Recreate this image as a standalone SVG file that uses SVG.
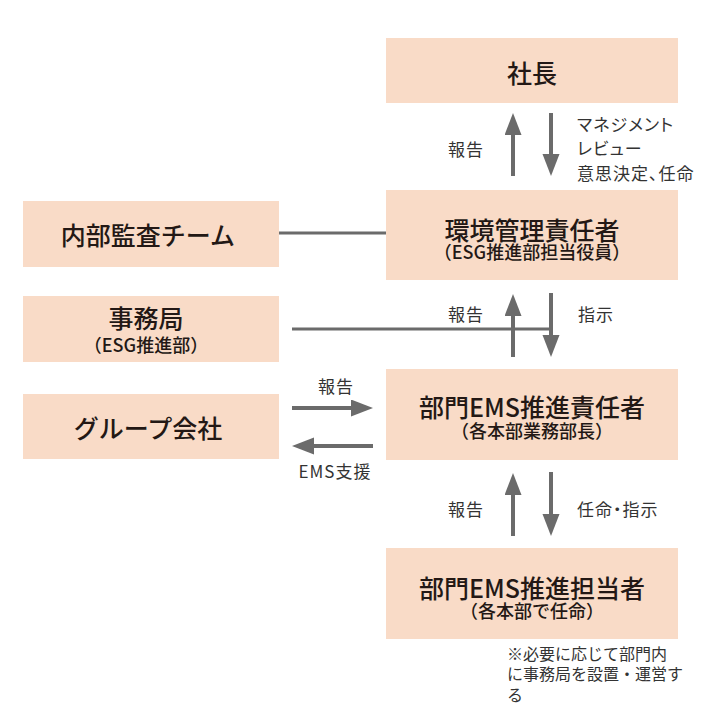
<svg xmlns="http://www.w3.org/2000/svg" width="720" height="725" viewBox="0 0 720 725">
<style>
.box{fill:#f9dbc7;}
.t{font-family:"Noto Sans CJK JP","Noto Sans",sans-serif;fill:#231815;text-anchor:middle;dominant-baseline:central;font-weight:500;}
.title{font-size:25px;}
.sub{font-size:18px;}
.lbl{font-family:"Noto Sans CJK JP","Noto Sans",sans-serif;fill:#333333;font-size:17px;font-feature-settings:"palt";letter-spacing:1px;dominant-baseline:central;}
.note{font-family:"Noto Sans CJK JP","Noto Sans",sans-serif;fill:#333333;font-size:16px;dominant-baseline:central;}
.ln{stroke:#6b6b6b;stroke-width:3;fill:none;}
.ar{stroke:#6b6b6b;stroke-width:4;fill:none;marker-end:url(#head);}
</style>
<defs>
<marker id="head" markerUnits="userSpaceOnUse" markerWidth="23" markerHeight="18" refX="1" refY="8.5" orient="auto">
<path d="M0,0 L22,8.5 L0,17 Z" fill="#6b6b6b"/>
</marker>
</defs>
<rect width="720" height="725" fill="#ffffff"/>
<g id="connectors">
<line class="ln" x1="279" y1="233" x2="386" y2="233"/>
<line class="ln" x1="292" y1="329" x2="553" y2="329"/>
<line class="ar" x1="513" y1="176" x2="513" y2="134"/>
<line class="ar" x1="551" y1="113" x2="551" y2="155"/>
<line class="ar" x1="513" y1="357" x2="513" y2="315"/>
<line class="ar" x1="551" y1="293" x2="551" y2="336"/>
<line class="ar" x1="513" y1="536" x2="513" y2="494"/>
<line class="ar" x1="551" y1="472" x2="551" y2="515"/>
<line class="ar" x1="292" y1="408" x2="352" y2="408"/>
<line class="ar" x1="373" y1="446" x2="313" y2="446"/>
<text class="lbl" x="466" y="148" text-anchor="middle">報告</text>
<text class="lbl" x="577" y="123">マネジメント</text>
<text class="lbl" x="577" y="147">レビュー</text>
<text class="lbl" x="577" y="172">意思決定、任命</text>
<text class="lbl" x="466" y="313" text-anchor="middle">報告</text>
<text class="lbl" x="578" y="313">指示</text>
<text class="lbl" x="336" y="385" text-anchor="middle">報告</text>
<text class="lbl" x="335" y="470" text-anchor="middle">EMS支援</text>
<text class="lbl" x="466" y="508" text-anchor="middle">報告</text>
<text class="lbl" x="577" y="508">任命・指示</text>
</g>
<g id="shacho">
<rect class="box" x="386" y="38" width="292" height="65"/>
<text class="t title" x="532" y="72">社長</text>
</g>
<g id="kankyo">
<rect class="box" x="386" y="190" width="292" height="90"/>
<text class="t"><tspan class="title" x="532" y="229">環境管理責任者</tspan><tspan class="sub" x="532" y="251">（ESG推進部担当役員）</tspan></text>
</g>
<g id="naibu">
<rect class="box" x="23" y="201" width="256" height="66"/>
<text class="t title" x="148" y="234">内部監査チーム</text>
</g>
<g id="jimukyoku">
<rect class="box" x="23" y="296" width="256" height="66"/>
<text class="t"><tspan class="title" x="146" y="317">事務局</tspan><tspan class="sub" x="146" y="344">（ESG推進部）</tspan></text>
</g>
<g id="group">
<rect class="box" x="23" y="394" width="256" height="65"/>
<text class="t title" x="148" y="427">グループ会社</text>
</g>
<g id="bumon-sekinin">
<rect class="box" x="386" y="369" width="292" height="91"/>
<text class="t"><tspan class="title" x="532" y="406">部門EMS推進責任者</tspan><tspan class="sub" x="532" y="430">（各本部業務部長）</tspan></text>
</g>
<g id="bumon-tanto">
<rect class="box" x="386" y="548" width="292" height="91"/>
<text class="t"><tspan class="title" x="532" y="587">部門EMS推進担当者</tspan><tspan class="sub" x="532" y="610">（各本部で任命）</tspan></text>
</g>
<g id="note">
<text class="note" x="507" y="653">※必要に応じて部門内</text>
<text class="note" x="507" y="673">に事務局を設置・運営す</text>
<text class="note" x="507" y="694">る</text>
</g>
</svg>
